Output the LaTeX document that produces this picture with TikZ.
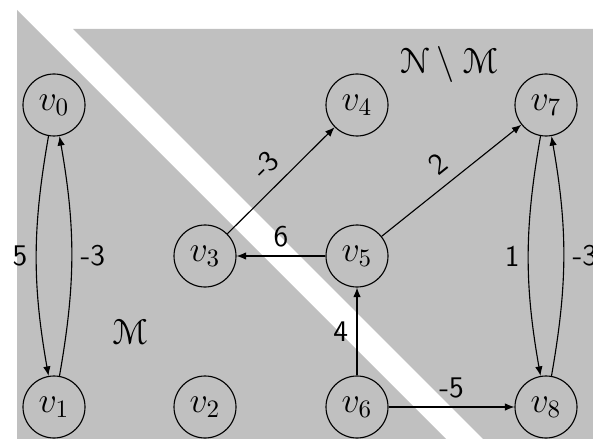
\documentclass[tikz,border=0pt]{standalone}
\usepackage[mathcal]{eucal}
\usetikzlibrary{arrows.meta}
\definecolor{bggray}{RGB}{192,192,192}
\begin{document}
\begin{tikzpicture}[x=0.4pt,y=-0.4pt,
  vert/.style={draw,circle,minimum size=24.8pt,inner sep=0pt,line width=0.45pt,font=\Large},
  arc/.style={-{Latex[length=3.8pt,width=3pt]},line width=0.45pt},
  lab/.style={font=\large\sffamily}]
\useasboundingbox (0,0) rectangle (593,439);
\begin{scope}
\clip (0,0) rectangle (593,439);
\fill[bggray] (17,10) -- (17,450) -- (457,450) -- cycle;
\fill[bggray] (73,29) -- (610,29) -- (610,450) -- (494,450) -- cycle;
\end{scope}
\node[vert] (v0) at (54,105) {$v_0$};
\node[vert] (v1) at (54,407) {$v_1$};
\node[vert] (v2) at (205,407) {$v_2$};
\node[vert] (v3) at (205,256) {$v_3$};
\node[vert] (v4) at (357,105) {$v_4$};
\node[vert] (v5) at (357,256) {$v_5$};
\node[vert] (v6) at (357,407) {$v_6$};
\node[vert] (v7) at (546,105) {$v_7$};
\node[vert] (v8) at (546,407) {$v_8$};
\node[font=\Large] (NM) at (449,65) {$\mathcal{N}\setminus\mathcal{M}$};
\node[font=\Large] (M) at (130,332) {$\mathcal{M}$};
\begin{scope}
\clip (0,0) rectangle (593,439);
\draw[arc] (v0) to[bend right=10] node[lab,left] {5} (v1);
\draw[arc] (v1) to[bend right=10] node[lab,right] {-3} (v0);
\draw[arc] (v7) to[bend right=10] node[lab,left] {1} (v8);
\draw[arc] (v8) to[bend right=10] node[lab,right] {-3} (v7);
\draw[arc] (v3) -- node[lab,above=1pt,sloped] {-3} (v4);
\draw[arc] (v5) -- node[lab,above] {6} (v3);
\draw[arc] (v5) -- node[lab,above=1pt,sloped] {2} (v7);
\draw[arc] (v6) -- node[lab,left] {4} (v5);
\draw[arc] (v6) -- node[lab,above] {-5} (v8);
\end{scope}
\end{tikzpicture}
\end{document}
